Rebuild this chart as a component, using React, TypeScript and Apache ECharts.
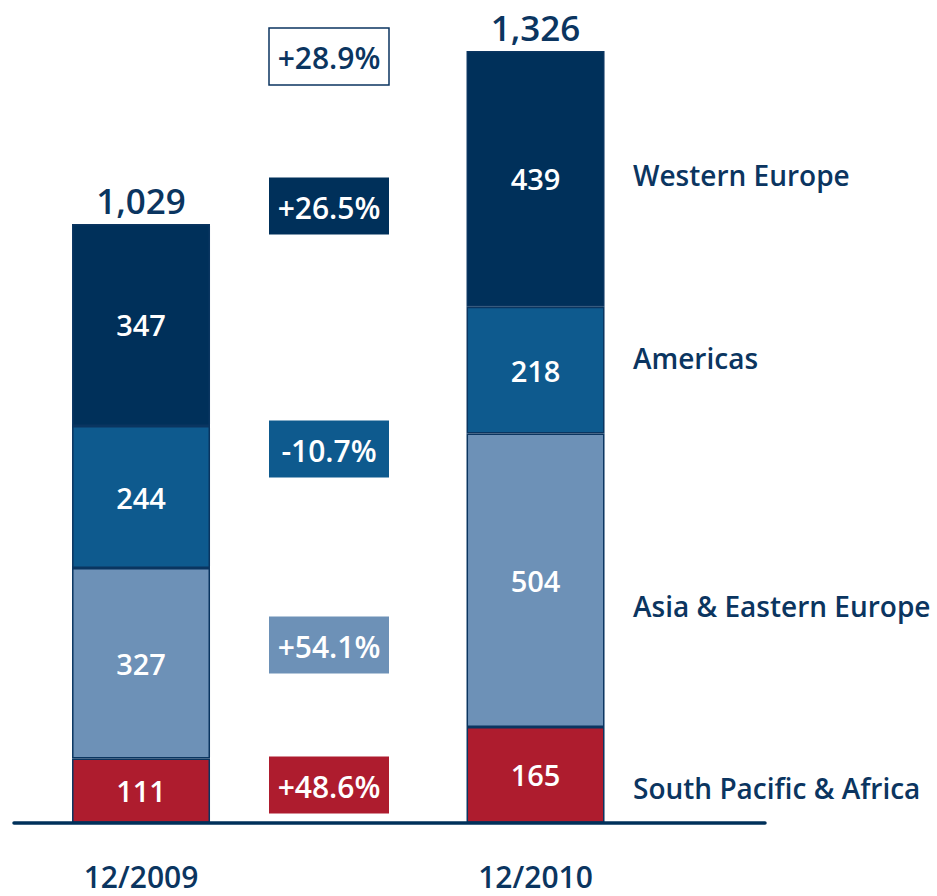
import React, { useEffect, useRef } from "react";
import * as echarts from "echarts";

const categories = ["12/2009", "", "12/2010"];
const seriesNames = ["South Pacific & Africa", "Asia & Eastern Europe", "Americas", "Western Europe"];
const southPacificAfrica = [111, "-", 165];
const asiaEasternEurope = [327, "-", 504];
const americas = [244, "-", 218];
const westernEurope = [347, "-", 439];
const changes = ["+48.6%", "+54.1%", "-10.7%", "+26.5%"];
const totalChange = "+28.9%";

const colors = ["#AE1C2E", "#6D91B7", "#0E5A8E", "#00305A"];
const navy = "#0B3560";
const FONT = "'Open Sans', 'Noto Sans', sans-serif";

export default function App() {
  const ref = useRef<HTMLDivElement>(null);
  useEffect(() => {
    if (!ref.current) return;
    const chart = echarts.init(ref.current, undefined, { renderer: "svg" });
    const seriesData = [southPacificAfrica, asiaEasternEurope, americas, westernEurope];
    const totals = categories.map((_, i) =>
      seriesData.every((s) => typeof s[i] === "number")
        ? seriesData.reduce((a, s) => a + (s[i] as number), 0)
        : "-"
    );

    // annotation placement (pixels)
    const boxX = 269, boxW = 120, boxH = 57;
    const boxCenters = [785, 645, 449, 206];
    const regionLabelY = [788, 606, 358, 175];

    const graphics: any[] = [];
    changes.forEach((c, i) => {
      graphics.push({
        type: "rect",
        shape: { x: boxX, y: boxCenters[i] - boxH / 2, width: boxW, height: boxH },
        style: { fill: colors[i] },
        z: 10,
      });
      graphics.push({
        type: "text",
        x: boxX + boxW / 2,
        y: boxCenters[i] + 1,
        style: {
          text: c,
          fill: "#ffffff",
          font: `600 30px ${FONT}`,
          align: "center",
          verticalAlign: "middle",
        },
        z: 11,
      });
    });
    graphics.push({
      type: "rect",
      shape: { x: boxX, y: 28, width: boxW, height: boxH },
      style: { fill: "#ffffff", stroke: navy, lineWidth: 1.5 },
      z: 10,
    });
    graphics.push({
      type: "text",
      x: boxX + boxW / 2,
      y: 28 + boxH / 2 + 1,
      style: {
        text: totalChange,
        fill: navy,
        font: `600 30px ${FONT}`,
        align: "center",
        verticalAlign: "middle",
      },
      z: 11,
    });
    seriesNames.forEach((n, i) => {
      graphics.push({
        type: "text",
        x: 633,
        y: regionLabelY[i],
        style: {
          text: n,
          fill: navy,
          font: `600 28px ${FONT}`,
          align: "left",
          verticalAlign: "middle",
        },
        z: 11,
      });
    });

    chart.setOption({
      animation: false,
      grid: [
        { left: 42.4, width: 591.75, top: 8, bottom: 73 },
        { left: 14, right: 172, top: 8, bottom: 73 },
      ],
      xAxis: [
        {
          type: "category",
          gridIndex: 0,
          data: categories,
          axisLine: { show: false },
          axisTick: { show: false },
          axisLabel: {
            color: navy,
            fontSize: 30,
            fontWeight: 600,
            fontFamily: FONT,
            margin: 38,
          },
        },
        {
          type: "value",
          gridIndex: 1,
          min: 0,
          max: 1,
          axisLine: { show: true, onZero: false, lineStyle: { color: "#00305A", width: 3.5 } },
          axisTick: { show: false },
          axisLabel: { show: false },
          splitLine: { show: false },
          z: 10,
        },
      ],
      yAxis: [
        { type: "value", gridIndex: 0, min: 0, max: 1400, show: false },
        { type: "value", gridIndex: 1, min: 0, max: 1, show: false },
      ],
      series: [
        ...seriesData.map((d, i) => ({
          name: seriesNames[i],
          type: "bar",
          stack: "total",
          barWidth: 138,
          data: d,
          itemStyle: { color: colors[i], borderColor: "#0A3560", borderWidth: 1.5 },
          label: {
            show: true,
            position: "inside",
            color: "#ffffff",
            fontSize: 29,
            fontWeight: 600,
            fontFamily: FONT,
          },
        })),
        {
          type: "scatter",
          data: totals,
          symbolSize: 0,
          itemStyle: { opacity: 1, color: navy },
          label: {
            show: true,
            position: "top",
            distance: 6,
            color: navy,
            opacity: 1,
            fontSize: 35,
            fontWeight: 600,
            fontFamily: FONT,
            formatter: (p: any) => Number(p.value).toLocaleString("en-US"),
          },
        },
      ],
      graphic: graphics,
    });
    return () => chart.dispose();
  }, []);
  return <div ref={ref} style={{ width: 937, height: 896, position: "absolute", left: 0, top: 0 }} />;
}
